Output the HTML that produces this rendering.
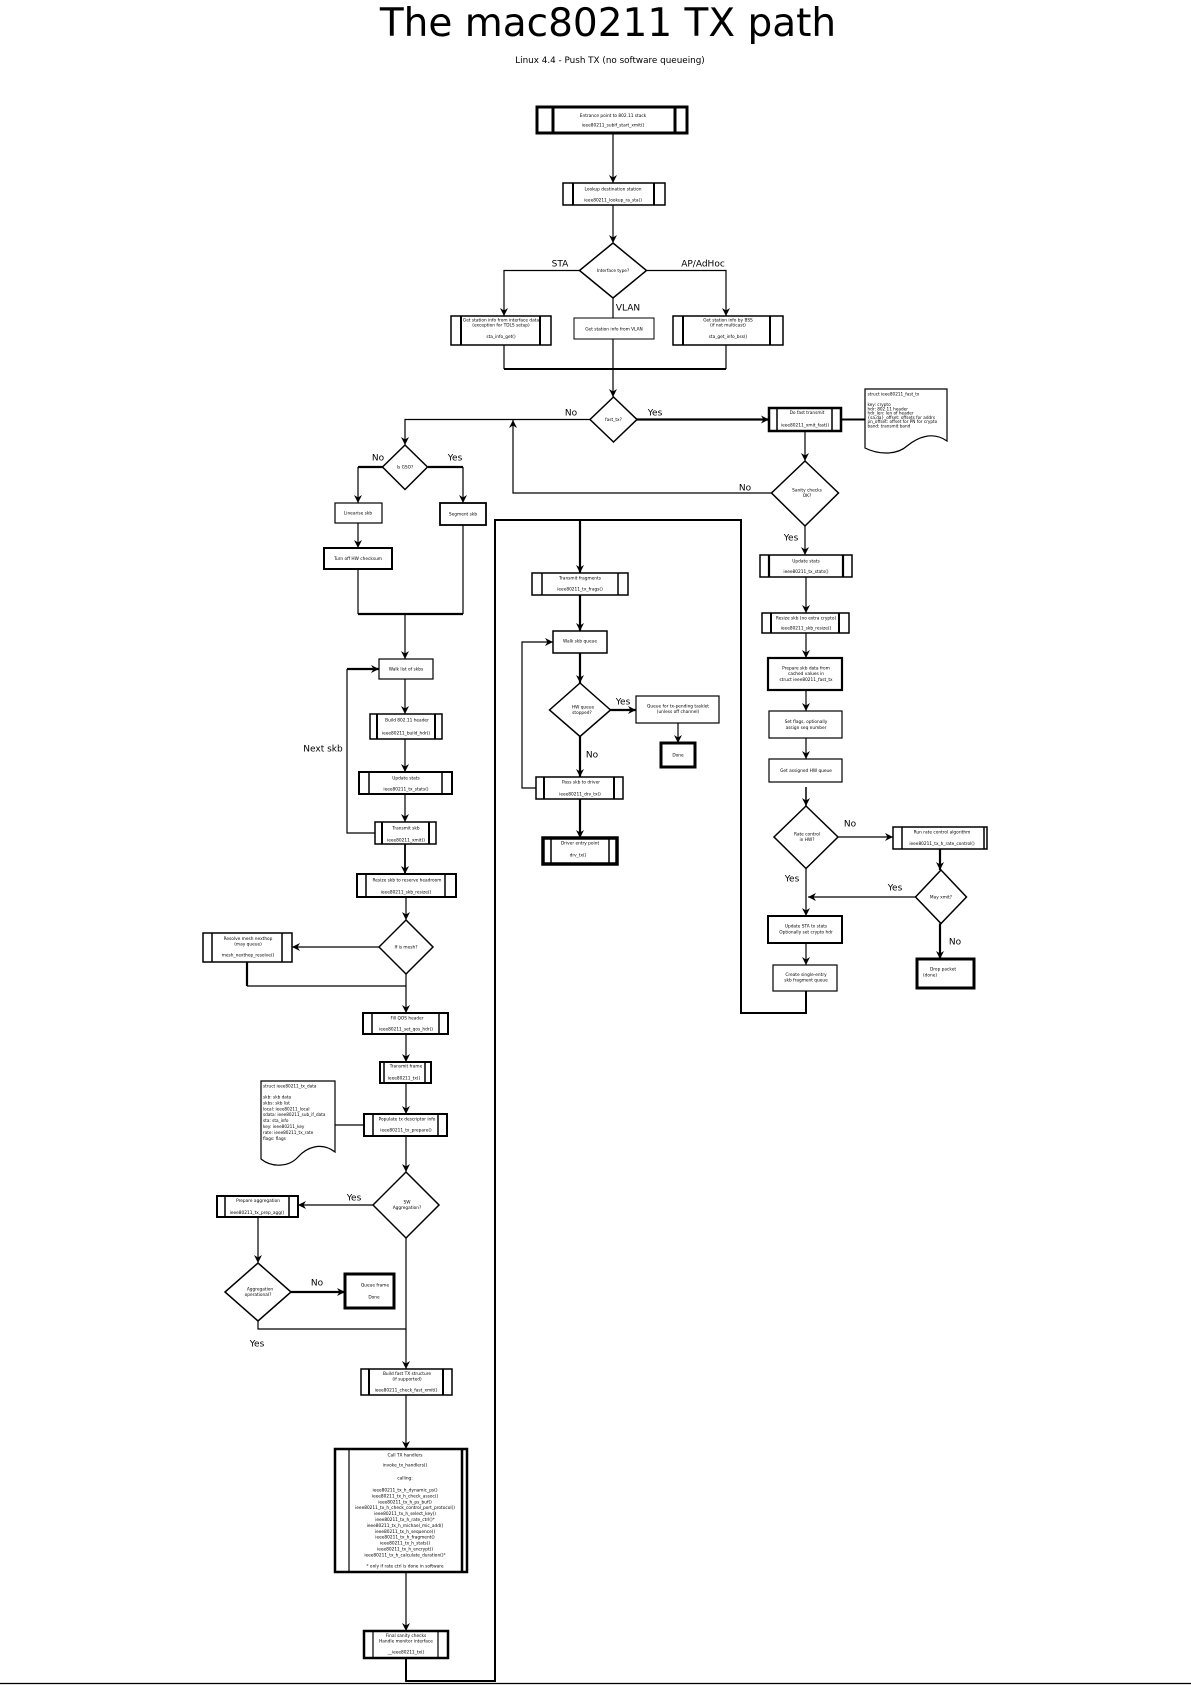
<!DOCTYPE html>
<html><head><meta charset="utf-8"><style>html,body{margin:0;padding:0;background:#fff}svg{display:block}</style></head>
<body>
<svg xmlns="http://www.w3.org/2000/svg" width="1191" height="1685" viewBox="0 0 1191 1685" font-family="'DejaVu Sans','Liberation Sans',sans-serif">
<defs>
<marker id="a" markerUnits="userSpaceOnUse" markerWidth="10" markerHeight="10" viewBox="-9 -5 10 10" refX="0" refY="0" orient="auto"><path d="M0,0 L-8,-4 L-5.5,0 L-8,4 Z" fill="#000"/></marker>
</defs>
<rect width="1191" height="1685" fill="#fff"/>

<!-- Title -->
<text x="608" y="36" font-size="39" text-anchor="middle">The mac80211 TX path</text>
<text x="610" y="63" font-size="8.8" text-anchor="middle">Linux 4.4 - Push TX (no software queueing)</text>

<!-- Connectors -->
<g fill="none" stroke="#000" stroke-width="1.2">
<path d="M613,133V183" marker-end="url(#a)"/>
<path d="M613,205V243" marker-end="url(#a)"/>
<path d="M580,270.5H504V316" marker-end="url(#a)"/>
<path d="M647,270.5H726V316" marker-end="url(#a)"/>
<path d="M613,298V318"/>
<path d="M504,345V369M613,339V369M726,345V369"/>
<path d="M504,369H726" stroke-width="2"/>
<path d="M613,369V397" marker-end="url(#a)"/>
<path d="M590,419.5H405V445" marker-end="url(#a)"/>
<path d="M637,419.5H769" stroke-width="2.2" marker-end="url(#a)"/>
<path d="M841,419.5H865" stroke-width="2"/>
<path d="M805,431V461" marker-end="url(#a)"/>
<path d="M772,493H513V420" marker-end="url(#a)"/>
<path d="M805,526V555" marker-end="url(#a)"/>
<path d="M383,467H358" stroke-width="2.2"/>
<path d="M358,467V503" marker-end="url(#a)"/>
<path d="M428,467H463" stroke-width="2.2"/>
<path d="M463,467V503" marker-end="url(#a)"/>
<path d="M358,523V548" marker-end="url(#a)"/>
<path d="M358,569V614M463,525V614"/>
<path d="M358,614H463" stroke-width="2.2"/>
<path d="M405,614V659" marker-end="url(#a)"/>
<path d="M405,679V714" marker-end="url(#a)"/>
<path d="M405,739V772" marker-end="url(#a)"/>
<path d="M405,794V822" marker-end="url(#a)"/>
<path d="M405,844V874" stroke-width="1.8" marker-end="url(#a)"/>
<path d="M375,833H347V669"/>
<path d="M347,669H379" stroke-width="2.2" marker-end="url(#a)"/>
<path d="M406,897V920" marker-end="url(#a)"/>
<path d="M379,947H292" marker-end="url(#a)"/>
<path d="M247,962V986" stroke-width="2.2"/>
<path d="M247,986H406"/>
<path d="M406,974V1013" marker-end="url(#a)"/>
<path d="M406,1034V1062" marker-end="url(#a)"/>
<path d="M406,1083V1114" marker-end="url(#a)"/>
<path d="M335,1125H364"/>
<path d="M406,1136V1172" marker-end="url(#a)"/>
<path d="M373,1205H298" marker-end="url(#a)"/>
<path d="M258,1217V1263" marker-end="url(#a)"/>
<path d="M291,1292H345" stroke-width="2.2" marker-end="url(#a)"/>
<path d="M258,1321V1329H406"/>
<path d="M406,1238V1369" marker-end="url(#a)"/>
<path d="M406,1395V1449" marker-end="url(#a)"/>
<path d="M406,1572V1631" marker-end="url(#a)"/>
<path d="M406,1658V1681H495V520H741V1013H806V991" stroke-width="2"/>
<path d="M580,520V573" stroke-width="2.2" marker-end="url(#a)"/>
<path d="M580,595V631" stroke-width="2.2" marker-end="url(#a)"/>
<path d="M580,653V683" stroke-width="2.2" marker-end="url(#a)"/>
<path d="M610.5,710H636" stroke-width="2.2" marker-end="url(#a)"/>
<path d="M678,723V743" marker-end="url(#a)"/>
<path d="M580,736.5V777" stroke-width="2.2" marker-end="url(#a)"/>
<path d="M536,788H522V642H553" marker-end="url(#a)"/>
<path d="M580,799V838" stroke-width="2.2" marker-end="url(#a)"/>
<path d="M806,577V613" marker-end="url(#a)"/>
<path d="M806,633V658" marker-end="url(#a)"/>
<path d="M806,690V711" marker-end="url(#a)"/>
<path d="M806,738V759" marker-end="url(#a)"/>
<path d="M806,787V806" stroke-width="1.5" marker-end="url(#a)"/>
<path d="M838,837H893" marker-end="url(#a)"/>
<path d="M940,849V870" stroke-width="2.2" marker-end="url(#a)"/>
<path d="M915.5,897H808" marker-end="url(#a)"/>
<path d="M806,868.5V916" marker-end="url(#a)"/>
<path d="M940,923.5V959" stroke-width="2.2" marker-end="url(#a)"/>
<path d="M806,943V965" marker-end="url(#a)"/>
<path d="M0,1683.5H1191"/>
</g>

<!-- Shapes -->
<g fill="#fff" stroke="#000" stroke-width="1.5">
<rect x="537" y="107" width="150" height="26" stroke-width="3"/>
<path d="M553,107V133M675,107V133" stroke-width="3"/>
<rect x="563" y="183" width="102" height="22"/>
<path d="M573,183V205M654,183V205" stroke-width="2"/>
<polygon points="613,243 646.5,270.5 613,298 579.5,270.5"/>
<rect x="451" y="316" width="100" height="29"/>
<path d="M461,316V345M540,316V345" stroke-width="2"/>
<rect x="574" y="318" width="80" height="21" stroke-width="1"/>
<rect x="673" y="316" width="110" height="29"/>
<path d="M683,316V345M770,316V345" stroke-width="2"/>
<polygon points="613.5,397 637,419.5 613.5,442 590,419.5"/>
<rect x="769" y="408" width="72" height="23" stroke-width="2.5"/>
<path d="M777,408V431M832,408V431"/>
<path d="M865,389H947V441C933,431 918,437 907,446C897,455 879,455 865,448Z" stroke-width="1.2"/>
<polygon points="805,461 838.5,493 805,526 771.5,493"/>
<rect x="760" y="555" width="92" height="22"/>
<path d="M769,555V577M843,555V577" stroke-width="2.2"/>
<rect x="762" y="613" width="87" height="20"/>
<path d="M771,613V633M839,613V633" stroke-width="2"/>
<rect x="768" y="658" width="74" height="32" stroke-width="2.2"/>
<rect x="769" y="711" width="73" height="27" stroke-width="1.2"/>
<rect x="769" y="759" width="73" height="23" stroke-width="1.2"/>
<polygon points="806,806 838,837 806,868.5 774,837"/>
<rect x="893" y="827" width="94" height="22"/>
<path d="M902,827V849M984,827V849"/>
<polygon points="941,870 966.5,897 941,923.5 915.5,897"/>
<rect x="917" y="959" width="57" height="29" stroke-width="3"/>
<rect x="768" y="916" width="74" height="27" stroke-width="2"/>
<rect x="773" y="965" width="64" height="26" stroke-width="1.2"/>

<polygon points="405,445 427.5,467 405,489.5 382.5,467"/>
<rect x="335" y="503" width="47" height="20" stroke-width="1.2"/>
<rect x="440" y="503" width="46" height="22" stroke-width="1.8"/>
<rect x="324" y="548" width="68" height="21" stroke-width="2"/>
<rect x="379" y="659" width="54" height="20" stroke-width="1.2"/>
<rect x="370" y="714" width="72" height="25"/>
<path d="M377,714V739M435,714V739" stroke-width="2"/>
<rect x="359" y="772" width="93" height="22" stroke-width="2"/>
<path d="M369,772V794M442,772V794"/>
<rect x="375" y="822" width="61" height="22"/>
<path d="M382,822V844M429,822V844" stroke-width="2"/>
<rect x="357" y="874" width="99" height="23" stroke-width="2"/>
<path d="M366,874V897M445,874V897"/>
<polygon points="406,920 433,947 406,974 379,947"/>
<rect x="203" y="933" width="89" height="29"/>
<path d="M212,933V962M282,933V962"/>
<rect x="363" y="1013" width="85" height="21" stroke-width="2"/>
<path d="M372,1013V1034M439,1013V1034"/>
<rect x="380" y="1062" width="51" height="21" stroke-width="2"/>
<path d="M384,1062V1083M425,1062V1083"/>
<rect x="364" y="1114" width="83" height="22" stroke-width="2"/>
<path d="M373,1114V1136M438,1114V1136"/>
<path d="M261,1081H335V1152C321,1141 306,1148 298,1157C289,1167 272,1168 261,1159Z" stroke-width="1.2"/>
<polygon points="406,1172 439,1205 406,1238 373,1205"/>
<rect x="217" y="1196" width="81" height="21" stroke-width="2"/>
<path d="M225,1196V1217M289,1196V1217"/>
<polygon points="258,1263 291,1292 258,1321 225,1292"/>
<rect x="345" y="1274" width="49" height="34" stroke-width="3"/>
<rect x="361" y="1369" width="91" height="26"/>
<path d="M369,1369V1395M443,1369V1395" stroke-width="2"/>
<rect x="335" y="1449" width="132" height="123" stroke-width="2.5"/>
<path d="M349,1449V1572" stroke-width="1.2"/>
<path d="M462,1449V1572" stroke-width="2.5"/>
<rect x="364" y="1631" width="84" height="27" stroke-width="2.5"/>
<path d="M373,1631V1658M438,1631V1658" stroke-width="1.2"/>

<rect x="532" y="573" width="96" height="22"/>
<path d="M542,573V595M618,573V595"/>
<rect x="553" y="631" width="54" height="22" stroke-width="1.5"/>
<polygon points="580,683 610.5,710 580,736.5 549.5,710"/>
<rect x="636" y="696" width="83" height="27" stroke-width="1.2"/>
<rect x="661" y="743" width="34" height="24" stroke-width="3"/>
<rect x="536" y="777" width="87" height="22"/>
<path d="M544,777V799M614,777V799" stroke-width="2"/>
<rect x="543" y="838" width="74" height="26" stroke-width="3.5"/>
<path d="M551,838V864M609,838V864" stroke-width="1.5"/>
</g>

<!-- Edge labels -->
<g font-size="9" text-anchor="middle" fill="#000">
<text x="560" y="266.5">STA</text>
<text x="703" y="266.5">AP/AdHoc</text>
<text x="628" y="310.5">VLAN</text>
<text x="571" y="415.5">No</text>
<text x="655" y="415.5">Yes</text>
<text x="378" y="460.5">No</text>
<text x="455" y="460.5">Yes</text>
<text x="745" y="490.5">No</text>
<text x="791" y="540.5">Yes</text>
<text x="323" y="751.5">Next skb</text>
<text x="623" y="704.5">Yes</text>
<text x="592" y="757.5">No</text>
<text x="850" y="826.5">No</text>
<text x="792" y="881.5">Yes</text>
<text x="895" y="890.5">Yes</text>
<text x="955" y="944.5">No</text>
<text x="354" y="1200.5">Yes</text>
<text x="317" y="1285.5">No</text>
<text x="257" y="1346.5">Yes</text>
</g>

<!-- Node text -->
<g font-size="4.3" text-anchor="middle" fill="#000">
<text x="613" y="117">Entrance point to 802.11 stack</text>
<text x="613" y="126.5">ieee80211_subif_start_xmit()</text>
<text x="613" y="190.5">Lookup destination station</text>
<text x="613" y="201.5">ieee80211_lookup_ra_sta()</text>
<text x="613" y="272">Interface type?</text>
<text x="501" y="321.5">Get station info from interface data</text>
<text x="501" y="326.5">(exception for TDLS setup)</text>
<text x="501" y="338">sta_info_get()</text>
<text x="614" y="330.5">Get station info from VLAN</text>
<text x="728" y="321.5">Get station info by BSS</text>
<text x="728" y="326.5">(if not multicast)</text>
<text x="728" y="338">sta_get_info_bss()</text>
<text x="613.5" y="421">fast_tx?</text>
<text x="807" y="414">Do fast transmit</text>
<text x="805" y="426.5">ieee80211_xmit_fast()</text>
<text x="807" y="491.5">Sanity checks</text>
<text x="807" y="497">OK?</text>
<text x="806" y="562.5">Update stats</text>
<text x="806" y="573">ieee80211_tx_stats()</text>
<text x="806" y="619.5">Resize skb (no extra crypto)</text>
<text x="806" y="629.5">ieee80211_skb_resize()</text>
<text x="806" y="669.5">Prepare skb data from</text>
<text x="806" y="675">cached values in</text>
<text x="806" y="681">struct ieee80211_fast_tx</text>
<text x="806" y="723">Set flags, optionally</text>
<text x="806" y="729">assign seq number</text>
<text x="806" y="772">Get assigned HW queue</text>
<text x="807" y="835.5">Rate control</text>
<text x="807" y="841">in HW?</text>
<text x="942" y="833.5">Run rate control algorithm</text>
<text x="942" y="845">ieee80211_tx_h_rate_control()</text>
<text x="941" y="898.5">May xmit?</text>
<text x="943" y="970.5">Drop packet</text>
<text x="930" y="976.5">(done)</text>
<text x="806" y="927.5">Update STA tx stats</text>
<text x="806" y="933.5">Optionally set crypto hdr</text>
<text x="806" y="976">Create single-entry</text>
<text x="806" y="981.5">skb fragment queue</text>

<text x="405" y="468.5">Is GSO?</text>
<text x="358" y="514.5">Linearise skb</text>
<text x="463" y="515.5">Segment skb</text>
<text x="358" y="560">Turn off HW checksum</text>
<text x="406" y="670.5">Walk list of skbs</text>
<text x="407" y="721.5">Build 802.11 header</text>
<text x="406" y="734.5">ieee80211_build_hdr()</text>
<text x="406" y="779.5">Update stats</text>
<text x="406" y="790.5">ieee80211_tx_stats()</text>
<text x="406" y="829.5">Transmit skb</text>
<text x="406" y="841.5">ieee80211_xmit()</text>
<text x="407" y="881.5">Resize skb to reserve headroom</text>
<text x="406" y="893.5">ieee80211_skb_resize()</text>
<text x="406" y="948.5">If is mesh?</text>
<text x="248" y="940">Resolve mesh nexthop</text>
<text x="248" y="945.5">(may queue)</text>
<text x="248" y="956.5">mesh_nexthop_resolve()</text>
<text x="407" y="1019.5">Fill QOS header</text>
<text x="406" y="1030.5">ieee80211_set_qos_hdr()</text>
<text x="406" y="1067.5">Transmit frame</text>
<text x="404" y="1079.5">ieee80211_tx()</text>
<text x="407" y="1120.5">Populate tx descriptor info</text>
<text x="406" y="1131.5">ieee80211_tx_prepare()</text>
<text x="407" y="1203.5">SW</text>
<text x="407" y="1209">Aggregation?</text>
<text x="258" y="1202">Prepare aggregation</text>
<text x="257" y="1214">ieee80211_tx_prep_agg()</text>
<text x="260" y="1290.5">Aggregation</text>
<text x="258" y="1296">operational?</text>
<text x="375" y="1286.5">Queue frame</text>
<text x="374" y="1298.5">Done</text>
<text x="407" y="1375">Build fast TX structure</text>
<text x="407" y="1380.5">(if supported)</text>
<text x="406" y="1391.5">ieee80211_check_fast_xmit()</text>
<text x="405" y="1456.5">Call TX handlers</text>
<text x="405" y="1466.5">invoke_tx_handlers()</text>
<text x="405" y="1479.5">calling:</text>
<text x="405" y="1491.5">ieee80211_tx_h_dynamic_ps()</text>
<text x="405" y="1497.4">ieee80211_tx_h_check_assoc()</text>
<text x="405" y="1503.3">ieee80211_tx_h_ps_buf()</text>
<text x="405" y="1509.2">ieee80211_tx_h_check_control_port_protocol()</text>
<text x="405" y="1515.1">ieee80211_tx_h_select_key()</text>
<text x="405" y="1521">ieee80211_tx_h_rate_ctrl()*</text>
<text x="405" y="1526.9">ieee80211_tx_h_michael_mic_add()</text>
<text x="405" y="1532.8">ieee80211_tx_h_sequence()</text>
<text x="405" y="1538.7">ieee80211_tx_h_fragment()</text>
<text x="405" y="1544.6">ieee80211_tx_h_stats()</text>
<text x="405" y="1550.5">ieee80211_tx_h_encrypt()</text>
<text x="405" y="1556.4">ieee80211_tx_h_calculate_duration()*</text>
<text x="405" y="1567.5">* only if rate ctrl is done in software</text>
<text x="406" y="1637">Final sanity checks</text>
<text x="406" y="1642.5">Handle monitor interface</text>
<text x="406" y="1653.5">__ieee80211_tx()</text>

<text x="580" y="579.5">Transmit fragments</text>
<text x="580" y="590.5">ieee80211_tx_frags()</text>
<text x="580" y="642.5">Walk skb queue</text>
<text x="583" y="708.5">HW queue</text>
<text x="582" y="714">stopped?</text>
<text x="678" y="707.5">Queue for tx-pending tasklet</text>
<text x="678" y="713">(unless off channel)</text>
<text x="678" y="756.5">Done</text>
<text x="581" y="783.5">Pass skb to driver</text>
<text x="580" y="795.5">ieee80211_drv_tx()</text>
<text x="580" y="844.5">Driver entry point</text>
<text x="578" y="856.5">drv_tx()</text>
</g>

<!-- Document texts -->
<g font-size="4.2" fill="#000">
<text x="867.5" y="395.5">struct ieee80211_fast_tx</text>
<text x="867.5" y="406">key: crypto</text>
<text x="867.5" y="410.3">hdr: 802.11 header</text>
<text x="867.5" y="414.6">hdr_len: len of header</text>
<text x="867.5" y="418.9">{sa,da}_offset: offsets for addrs</text>
<text x="867.5" y="423.2">pn_offset: offset for PN for crypto</text>
<text x="867.5" y="427.5">band: transmit band</text>
<text x="263" y="1087.5">struct ieee80211_tx_data</text>
<text x="263" y="1098.5">skb: skb data</text>
<text x="263" y="1104.4">skbs: skb list</text>
<text x="263" y="1110.3">local: ieee80211_local</text>
<text x="263" y="1116.2">sdata: ieee80211_sub_if_data</text>
<text x="263" y="1122.1">sta: sta_info</text>
<text x="263" y="1128">key: ieee80211_key</text>
<text x="263" y="1133.9">rate: ieee80211_tx_rate</text>
<text x="263" y="1139.8">flags: flags</text>
</g>
</svg>
</body></html>
